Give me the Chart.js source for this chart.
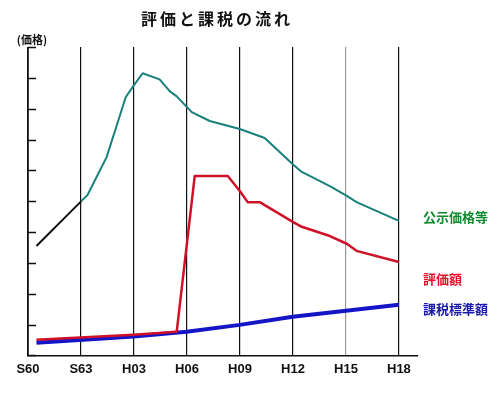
<!DOCTYPE html>
<html>
<head>
<meta charset="utf-8">
<script src="https://cdn.jsdelivr.net/npm/chart.js@4"></script>
<style>
  body { margin: 0; background: #fff; }
  canvas { display: block; }
</style>
</head>
<body>
<canvas id="myChart" width="500" height="397"></canvas>
<script>
// 年(西暦)と値 — 図から読み取り
const koujiYears = [1985.48, 1988.03, 1988.37, 1989.45, 1989.96, 1990.53, 1990.92, 1991.49, 1992.45, 1993.02, 1993.42, 1994.27, 1995.29, 1996.99, 1998.4, 1999.99, 2000.5, 2002.09, 2003.05, 2003.6, 2006.0];
const koujiValues = [3.55, 5.01, 5.2, 6.43, 7.34, 8.37, 8.7, 9.15, 8.95, 8.57, 8.4, 7.89, 7.6, 7.34, 7.05, 6.2, 5.95, 5.49, 5.17, 4.97, 4.36];

const hyoukaYears = [1985.48, 1990.98, 1993.42, 1994.44, 1996.31, 1996.99, 1997.44, 1998.12, 1999.99, 2000.5, 2002.09, 2003.05, 2003.6, 2006.0];
const hyoukaValues = [0.51, 0.67, 0.77, 5.82, 5.82, 5.33, 4.97, 4.97, 4.33, 4.17, 3.87, 3.62, 3.39, 3.03];

const kazeiYears = [1985.48, 1990.98, 1993.98, 1996.99, 1999.99, 2003.0, 2006.0];
const kazeiValues = [0.41, 0.61, 0.77, 0.99, 1.25, 1.45, 1.64];

const tickYears = [1985, 1988, 1991, 1994, 1997, 2000, 2003, 2006];
const tickLabels = ["S60", "S63", "H03", "H06", "H09", "H12", "H15", "H18"];
const yTicks = [0, 1, 2, 3, 4, 5, 6, 7, 8, 9, 10];

const seriesNames = ["公示価格等", "評価額", "課税標準額"];
const toPoints = (xs, ys) => xs.map((x, i) => ({ x: x, y: ys[i] }));

// 軸・タイトル・系列名
const extras = {
  id: "extras",
  afterDraw(chart) {
    const ctx = chart.ctx;
    const y = chart.scales.y;
    const left = chart.chartArea.left;
    ctx.save();
    ctx.strokeStyle = "#111";
    ctx.lineWidth = 1.5;
    ctx.beginPath();
    ctx.moveTo(left, y.getPixelForValue(10));
    ctx.lineTo(left, y.getPixelForValue(0));
    yTicks.forEach((v) => {
      const py = Math.round(y.getPixelForValue(v)) + 0.5;
      ctx.moveTo(left, py);
      ctx.lineTo(left + 8, py);
    });
    ctx.stroke();

    ctx.fillStyle = "#111";
    ctx.textBaseline = "middle";
    ctx.textAlign = "center";
    ctx.font = 'bold 16px "Noto Sans CJK JP"';
    ctx.letterSpacing = "3px";
    ctx.fillText("評価と課税の流れ", 217, 19);
    ctx.letterSpacing = "0px";
    ctx.font = 'bold 11px "Noto Sans CJK JP"';
    ctx.fillText("(価格)", 32, 40);

    ctx.textAlign = "left";
    ctx.font = 'bold 13px "Noto Sans CJK JP"';
    ctx.fillStyle = "#0d8a2e";
    ctx.fillText(seriesNames[0], 423, 217);
    ctx.fillStyle = "#e8102a";
    ctx.fillText(seriesNames[1], 423, 279);
    ctx.fillStyle = "#1a1aa8";
    ctx.fillText(seriesNames[2], 423, 309);
    ctx.restore();
  },
};

const dati = {
  datasets: [
    {
      label: seriesNames[0],
      data: toPoints(koujiYears, koujiValues),
      borderColor: "#17807a",
      borderWidth: 2,
      segment: {
        borderColor: (c) => (c.p0.parsed.x < 1988 ? "#111" : "#17807a"),
      },
    },
    {
      label: seriesNames[1],
      data: toPoints(hyoukaYears, hyoukaValues),
      borderColor: "#d01028",
      borderWidth: 2.5,
    },
    {
      label: seriesNames[2],
      data: toPoints(kazeiYears, kazeiValues),
      borderColor: "#1515c8",
      borderWidth: 4,
    },
  ],
};

const config = {
  type: "line",
  data: dati,
  plugins: [extras],
  options: {
    responsive: false,
    animation: false,
    layout: {
      padding: { left: 28, right: 82, top: 47, bottom: 14 },
    },
    elements: {
      point: { radius: 0 },
      line: { tension: 0, borderJoinStyle: "round" },
    },
    plugins: {
      legend: { display: false },
      tooltip: { enabled: false },
    },
    scales: {
      x: {
        type: "linear",
        min: 1985,
        max: 2007.08,
        afterBuildTicks: (scale) => {
          scale.ticks = tickYears.map((v) => ({ value: v }));
        },
        grid: {
          color: (c) => (c.tick && c.tick.value === 2003 ? "#999" : "#111"),
          lineWidth: 1.2,
          drawTicks: false,
        },
        border: { display: true, color: "#111", width: 1.5 },
        ticks: {
          autoSkip: false,
          maxRotation: 0,
          padding: 6,
          color: "#111",
          font: { family: "Liberation Sans", size: 13, weight: "bold" },
          callback: (value, index) => tickLabels[index],
        },
      },
      y: {
        display: false,
        min: 0,
        max: 10,
      },
    },
  },
};

const myChart = new Chart(
  document.getElementById("myChart").getContext("2d"),
  config
);
</script>
</body>
</html>
